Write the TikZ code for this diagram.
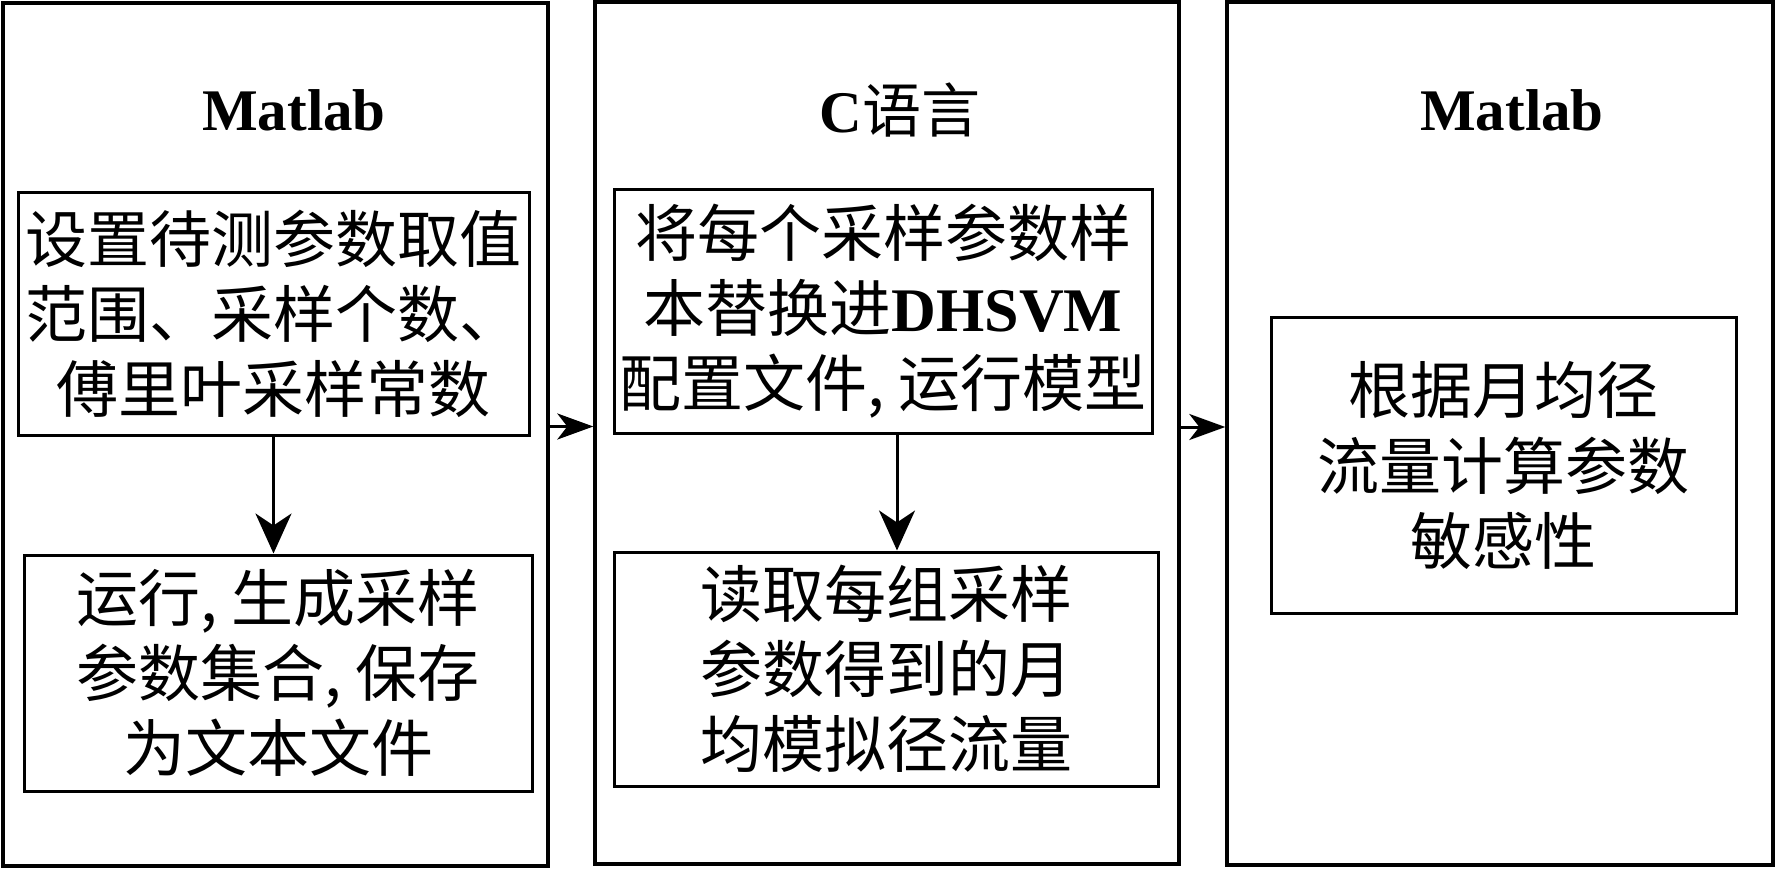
\documentclass[tikz,border=0pt]{standalone}
\usepackage{fontspec}
\setmainfont{Liberation Serif}
\newfontfamily\cjk{Noto Sans CJK SC}
\usetikzlibrary{arrows.meta}
\newcommand\lat[1]{{\rmfamily\bfseries #1}}
\tikzset{
  outerbox/.style={draw, line width=1.7pt, inner sep=0pt},
  innerbox/.style={draw, line width=1.5pt, inner sep=0pt, align=center,
    font=\cjk\fontsize{31}{37.5}\selectfont},
  titletext/.style={inner sep=0pt, font=\rmfamily\bfseries\fontsize{29.5}{34}\selectfont},
  downarr/.style={line width=1.5pt, -{Stealth[length=20pt,width=18pt,inset=6pt]}},
  sidearr/.style={line width=1.5pt, -{Stealth[length=18pt,width=13pt,inset=5pt]}}
}
\begin{document}
\begin{tikzpicture}[x=0.5pt,y=-0.5pt]
\useasboundingbox (0,0) rectangle (1776,871);
% outer boxes
\node[outerbox, minimum width=272.5pt, minimum height=431.5pt] (box1) at (275.5,434.5) {};
\node[outerbox, minimum width=292pt, minimum height=431pt] (box2) at (887,433) {};
\node[outerbox, minimum width=273pt, minimum height=431.5pt] (box3) at (1500,433.5) {};
% titles
\node[titletext] (t1) at (294,110) {Matlab};
\node[titletext] (t2) at (900,110) {C{\cjk\fontseries{m}\selectfont 语言}};
\node[titletext] (t3) at (1512,110) {Matlab};
% inner boxes
\node[innerbox, minimum width=255.5pt, minimum height=121pt] (a) at (273.5,314)
  {设置待测参数取值\\范围、采样个数、\\傅里叶采样常数};
\node[innerbox, minimum width=254pt, minimum height=118pt] (b) at (278,673)
  {运行, 生成采样\\参数集合, 保存\\为文本文件};
\node[innerbox, minimum width=269pt, minimum height=121.5pt] (c) at (883,311.5)
  {将每个采样参数样\\本替换进\lat{DHSVM}\\配置文件, 运行模型};
\node[innerbox, minimum width=272pt, minimum height=117pt] (d) at (886,669)
  {读取每组采样\\参数得到的月\\均模拟径流量};
\node[innerbox, minimum width=232.5pt, minimum height=147.5pt] (e) at (1503.5,465.5)
  {根据月均径\\流量计算参数\\敏感性};
% connectors
\draw[downarr] (a.south) -- (a.south |- b.north);
\draw[downarr] ([xshift=7pt]c.south) -- ([xshift=7pt]c.south |- d.north);
\draw[sidearr] ([yshift=4pt]box1.east) -- ([yshift=4pt]box1.east -| box2.west);
\draw[sidearr] ([yshift=3pt]box2.east) -- ([yshift=3pt]box2.east -| box3.west);
\end{tikzpicture}
\end{document}
